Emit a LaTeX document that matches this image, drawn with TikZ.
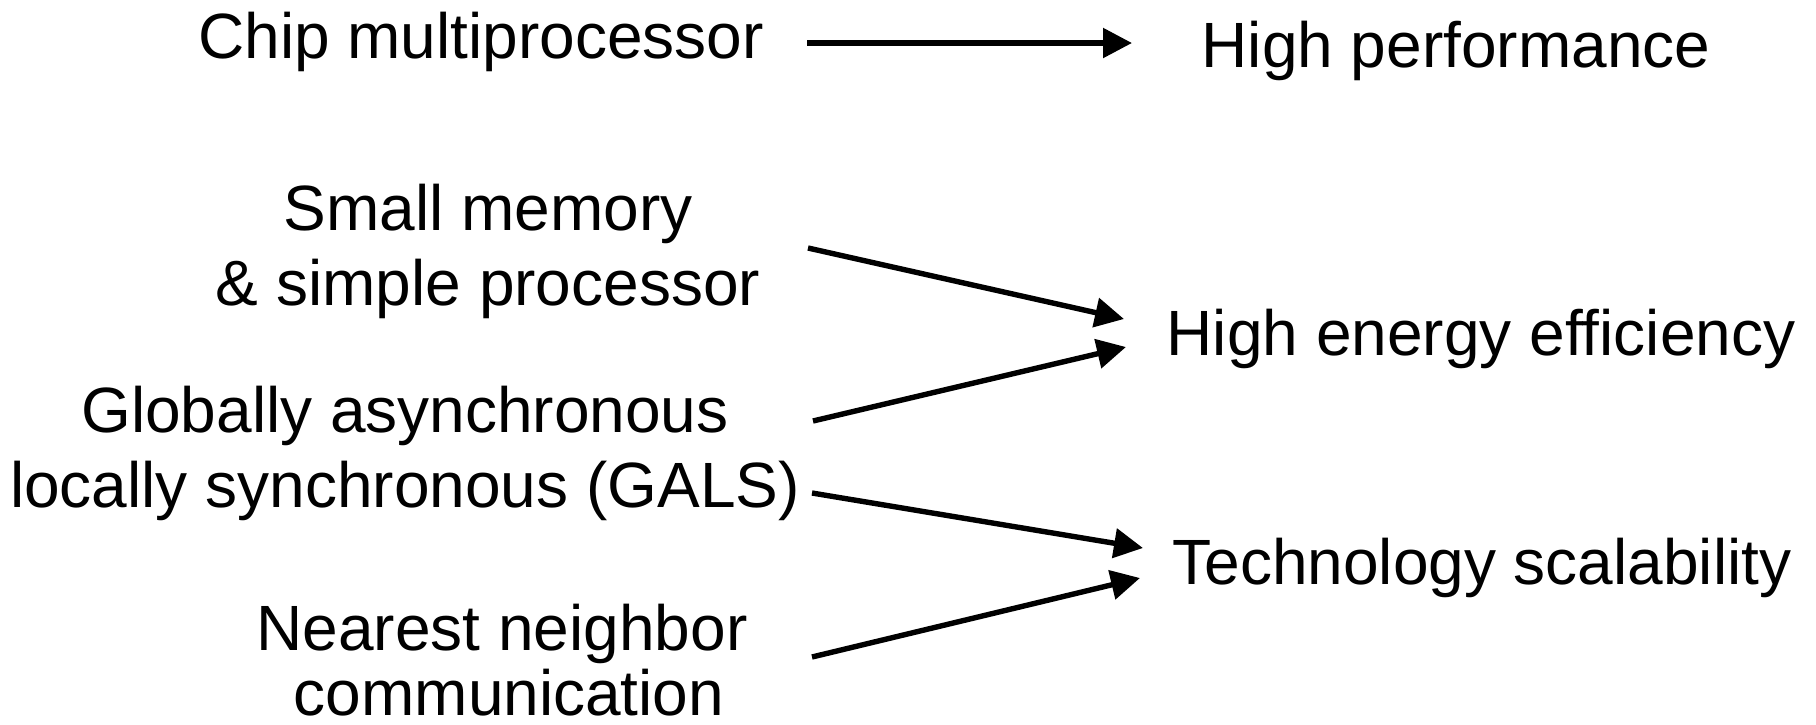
\documentclass[tikz,border=0pt]{standalone}
\usepackage{fontspec}
\setmainfont{Liberation Sans}
\usetikzlibrary{arrows.meta,calc}
\begin{document}
\begin{tikzpicture}[x=0.5pt,y=-0.5pt,
  lbl/.style={inner sep=0pt, anchor=base, align=center, font=\fontsize{32pt}{37.5pt}\selectfont},
  arr/.style={line width=2.7pt, -{Triangle[length=14.5pt,width=14.5pt]}}]
\useasboundingbox (0,0) rectangle (1816,724);
\node[lbl] (chip) at (481,58) {Chip multiprocessor};
\node[lbl] (sm) at (488,305) {Small memory\\\& simple processor};
\node[lbl] (gals) at (405,507) {Globally asynchronous\\locally synchronous (GALS)};
\node[lbl] (nn) at (502,715) {Nearest neighbor\\[-5pt]\hspace*{7pt}communication};
\node[lbl] (hp) at (1456,67) {High performance};
\node[lbl] (hee) at (1481,355) {High energy efficiency};
\node[lbl] (ts) at (1482,584) {Technology scalability};
\draw[arr] ($(chip.base)+(326,-15)$) -- ($(hp.base)+(-324,-24)$);
\draw[arr] ($(sm.base)+(320,-57)$) -- ($(hee.base)+(-357,-36)$);
\draw[arr] ($(gals.base)+(408,-86)$) -- ($(hee.base)+(-355,-8)$);
\draw[arr] ($(gals.base)+(407,-14)$) -- ($(ts.base)+(-339,-36)$);
\draw[arr] ($(nn.base)+(310,-58)$) -- ($(ts.base)+(-342,-6)$);
\end{tikzpicture}
\end{document}
